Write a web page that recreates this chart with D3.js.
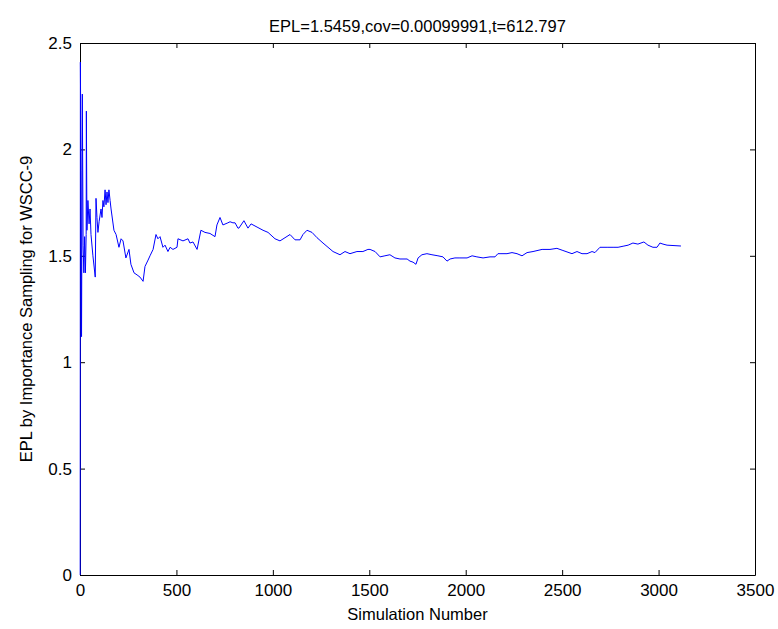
<!DOCTYPE html>
<html>
<head>
<meta charset="utf-8">
<script src="https://cdn.jsdelivr.net/npm/d3@7"></script>
<style>
  body { margin: 0; background: #fff; }
  svg { display: block; }
  .axis text { font-family: "Liberation Sans", Arial, sans-serif; font-size: 17px; fill: #000; }
  .axis path, .axis line { stroke: #000; }
</style>
</head>
<body>
<div class="chart"></div>
<script>
// simulation number and running EPL estimate
const simNumbers = [1, 2, 5, 8, 12, 16, 20, 24, 28, 32, 33, 36, 41, 47, 52, 57, 67, 79, 83, 88,
  93, 99, 109, 114, 119, 124, 130, 135, 140, 145, 150, 156, 161, 176, 187, 202, 213, 223, 238, 254,
  264, 280, 296, 311, 327, 337, 353, 363, 379, 394, 404, 415, 430, 441, 456, 467, 482, 503, 508, 534,
  560, 570, 586, 607, 627, 648, 674, 700, 710, 726, 741, 767, 778, 793, 804, 819, 824, 850, 871, 887,
  918, 949, 975, 1011, 1037, 1063, 1089, 1115, 1141, 1156, 1177, 1203, 1229, 1260, 1286, 1312, 1348, 1374, 1400, 1436,
  1467, 1493, 1504, 1530, 1556, 1581, 1607, 1633, 1659, 1696, 1711, 1727, 1742, 1753, 1773, 1799, 1825, 1856, 1882, 1903,
  1919, 1944, 1970, 2007, 2033, 2058, 2090, 2126, 2152, 2167, 2178, 2214, 2240, 2266, 2292, 2318, 2349, 2396, 2437, 2473,
  2504, 2551, 2577, 2603, 2629, 2655, 2670, 2696, 2733, 2764, 2790, 2816, 2842, 2867, 2893, 2924, 2945, 2971, 2992, 3007,
  3023, 3044, 3116];
const eplValues = [0, 2.41, 1.9, 1.12, 2.26, 1.55, 1.42, 1.59, 1.42, 1.60, 2.18, 1.62, 1.76, 1.65, 1.72, 1.60, 1.50, 1.40, 1.77, 1.68,
  1.61, 1.66, 1.72, 1.68, 1.76, 1.73, 1.81, 1.74, 1.80, 1.75, 1.81, 1.76, 1.72, 1.62, 1.60, 1.54, 1.58, 1.57, 1.49, 1.53,
  1.46, 1.42, 1.41, 1.40, 1.38, 1.45, 1.48, 1.50, 1.53, 1.60, 1.58, 1.59, 1.54, 1.55, 1.52, 1.54, 1.53, 1.54, 1.58, 1.57,
  1.58, 1.56, 1.565, 1.53, 1.62, 1.61, 1.605, 1.59, 1.645, 1.68, 1.645, 1.655, 1.66, 1.655, 1.655, 1.63, 1.63, 1.665, 1.63, 1.65,
  1.635, 1.62, 1.61, 1.58, 1.57, 1.585, 1.60, 1.575, 1.575, 1.60, 1.62, 1.61, 1.585, 1.56, 1.54, 1.52, 1.505, 1.52, 1.51, 1.52,
  1.52, 1.53, 1.53, 1.52, 1.495, 1.50, 1.505, 1.49, 1.485, 1.485, 1.475, 1.47, 1.46, 1.49, 1.505, 1.51, 1.505, 1.50, 1.495, 1.475,
  1.485, 1.49, 1.49, 1.49, 1.50, 1.495, 1.49, 1.495, 1.495, 1.51, 1.51, 1.51, 1.515, 1.51, 1.50, 1.515, 1.52, 1.53, 1.53, 1.535,
  1.525, 1.51, 1.52, 1.51, 1.51, 1.52, 1.515, 1.54, 1.54, 1.54, 1.54, 1.545, 1.55, 1.56, 1.555, 1.565, 1.55, 1.54, 1.54, 1.56,
  1.555, 1.55, 1.546];

const xTicks = [0, 500, 1000, 1500, 2000, 2500, 3000, 3500];
const yTicks = [0, 0.5, 1, 1.5, 2, 2.5];

const titleText = 'EPL=1.5459,cov=0.00099991,t=612.797';
const xLabel = 'Simulation Number';
const yLabel = 'EPL by Importance Sampling for WSCC-9';

const data = simNumbers.map((s, i) => ({ n: s, epl: eplValues[i] }));

let margin = { top: 43, right: 23, bottom: 54, left: 80 },
    width = 778 - margin.left - margin.right,
    height = 629 - margin.top - margin.bottom;

let x = d3.scaleLinear().domain([0, 3500]).range([0, width]);
let y = d3.scaleLinear().domain([0, 2.5]).range([height, 0]);

let svg = d3.select('.chart')
    .append('svg')
    .attr('width', 778)
    .attr('height', 629)
    .append('g')
    .attr('transform', 'translate(' + margin.left + ',' + margin.top + ')');

// box with inward ticks, matlab style
svg.append('g')
    .attr('class', 'axis')
    .attr('transform', 'translate(0,' + height + ')')
    .call(d3.axisBottom(x).tickValues(xTicks).tickSizeInner(-5).tickSizeOuter(0).tickPadding(9).tickFormat(d3.format('d')));

svg.append('g')
    .attr('class', 'axis')
    .call(d3.axisTop(x).tickValues(xTicks).tickSizeInner(-5).tickSizeOuter(0).tickFormat(''));

svg.append('g')
    .attr('class', 'axis')
    .call(d3.axisLeft(y).tickValues(yTicks).tickSizeInner(-5).tickSizeOuter(0).tickPadding(8).tickFormat(d3.format('')));

svg.append('g')
    .attr('class', 'axis')
    .attr('transform', 'translate(' + width + ',0)')
    .call(d3.axisRight(y).tickValues(yTicks).tickSizeInner(-5).tickSizeOuter(0).tickFormat(''));

// the line, drawn over the box like matlab does
svg.append('path')
    .datum(data)
    .attr('fill', 'none')
    .attr('stroke', '#0000ff')
    .attr('stroke-width', 1)
    .attr('d', d3.line().x(d => x(d.n)).y(d => y(d.epl)));

// title and axis labels
svg.append('text')
    .attr('x', width / 2)
    .attr('y', -11)
    .attr('text-anchor', 'middle')
    .style('font-family', '"Liberation Sans", Arial, sans-serif')
    .style('font-size', '16.5px')
    .text(titleText);

svg.append('text')
    .attr('x', width / 2)
    .attr('y', height + 45)
    .attr('text-anchor', 'middle')
    .style('font-family', '"Liberation Sans", Arial, sans-serif')
    .style('font-size', '16.5px')
    .text(xLabel);

svg.append('text')
    .attr('text-anchor', 'middle')
    .attr('transform', 'translate(' + (-48) + ',' + (height / 2) + ')rotate(-90)')
    .style('font-family', '"Liberation Sans", Arial, sans-serif')
    .style('font-size', '16.5px')
    .text(yLabel);
</script>
</body>
</html>
